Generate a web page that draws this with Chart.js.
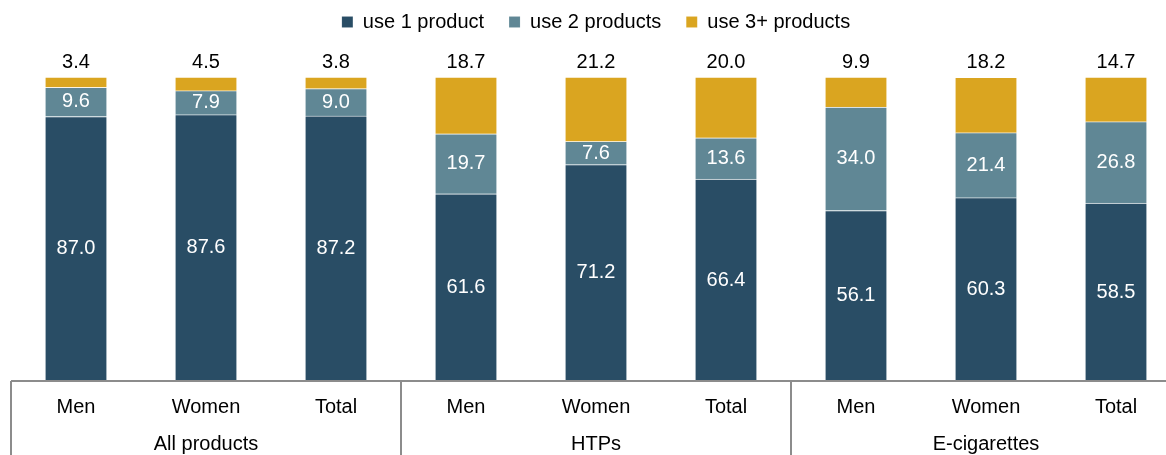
<!DOCTYPE html>
<html>
<head>
<meta charset="utf-8">
<script src="https://cdn.jsdelivr.net/npm/chart.js@4"></script>
<style>
  html, body { margin: 0; padding: 0; background: #fff; overflow: hidden; }
  #wrap { position: absolute; left: 0; top: 0; width: 1181px; height: 455px; }
</style>
</head>
<body>
<div id="wrap"><canvas id="chart"></canvas></div>
<script>
const categories = ['Men', 'Women', 'Total', 'Men', 'Women', 'Total', 'Men', 'Women', 'Total'];
const groups = ['All products', 'HTPs', 'E-cigarettes'];
const use1 = [87.0, 87.6, 87.2, 61.6, 71.2, 66.4, 56.1, 60.3, 58.5];
const use2 = [9.6, 7.9, 9.0, 19.7, 7.6, 13.6, 34.0, 21.4, 26.8];
const use3 = [3.4, 4.5, 3.8, 18.7, 21.2, 20.0, 9.9, 18.2, 14.7];

const FONT = '"Liberation Sans", Arial, sans-serif';

// 値ラベル（白：内側、黒：上）
const valueLabels = {
    id: 'valueLabels',
    afterDatasetsDraw(chart) {
        const ctx = chart.ctx;
        ctx.save();
        ctx.font = '20px ' + FONT;
        ctx.textAlign = 'center';
        ctx.textBaseline = 'middle';
        chart.data.datasets.forEach((ds, di) => {
            const meta = chart.getDatasetMeta(di);
            meta.data.forEach((bar, i) => {
                const v = ds.data[i].toFixed(1);
                if (di < 2) {
                    ctx.fillStyle = '#ffffff';
                    ctx.fillText(v, bar.x, (bar.y + bar.base) / 2);
                } else {
                    ctx.fillStyle = '#000000';
                    ctx.fillText(v, bar.x, bar.y - 15);
                }
            });
        });
        ctx.restore();
    }
};

// 凡例を上へ寄せる + グループ区切り線
const groupLines = {
    id: 'groupLines',
    afterLayout(chart) {
        chart.legend.top -= 35;
        chart.legend.bottom -= 35;
    },
    afterDraw(chart) {
        const ctx = chart.ctx;
        const x = chart.scales.x;
        const step = (x.getPixelForTick(1) - x.getPixelForTick(0));
        ctx.save();
        ctx.strokeStyle = '#8c8c8c';
        ctx.lineWidth = 2;
        ctx.beginPath();
        for (let g = 0; g <= groups.length; g++) {
            const px = Math.round(x.getPixelForTick(0) - step / 2 + g * 3 * step);
            ctx.moveTo(px, x.top);
            ctx.lineTo(px, chart.height);
        }
        ctx.moveTo(x.left, x.top);
        ctx.lineTo(x.right, x.top);
        ctx.stroke();
        ctx.restore();
    }
};

new Chart(document.getElementById('chart'), {
    type: 'bar',
    data: {
        labels: categories,
        datasets: [
            { label: 'use 1 product', data: use1, backgroundColor: '#294d65' },
            { label: 'use 2 products', data: use2, backgroundColor: '#608795' },
            { label: 'use 3+ products', data: use3, backgroundColor: '#daa520' }
        ].map(d => Object.assign(d, {
            barThickness: 61,
            borderColor: 'rgba(255,255,255,0.35)',
            borderWidth: { top: 1, left: 0, right: 0, bottom: 0 },
            borderSkipped: false
        }))
    },
    options: {
        responsive: true,
        maintainAspectRatio: false,
        animation: false,
        layout: { padding: { left: 11, right: 0, top: 22, bottom: 0 } },
        plugins: {
            legend: {
                position: 'top',
                labels: {
                    boxWidth: 11,
                    boxHeight: 11,
                    padding: 25,
                    color: '#000',
                    font: { family: FONT, size: 20 }
                }
            },
            tooltip: { enabled: false }
        },
        scales: {
            x: {
                stacked: true,
                grid: { display: false, drawTicks: false },
                border: { display: false },
                ticks: {
                    color: '#000',
                    padding: 14,
                    maxRotation: 0,
                    autoSkip: false,
                    font: { family: FONT, size: 20 }
                }
            },
            x2: {
                type: 'category',
                labels: groups,
                position: 'bottom',
                grid: { display: false, drawTicks: false },
                border: { display: false },
                ticks: {
                    color: '#000',
                    padding: -1,
                    maxRotation: 0,
                    font: { family: FONT, size: 20 }
                }
            },
            y: {
                stacked: true,
                display: false,
                min: 0,
                max: 100
            }
        }
    },
    plugins: [valueLabels, groupLines]
});
</script>
</body>
</html>
